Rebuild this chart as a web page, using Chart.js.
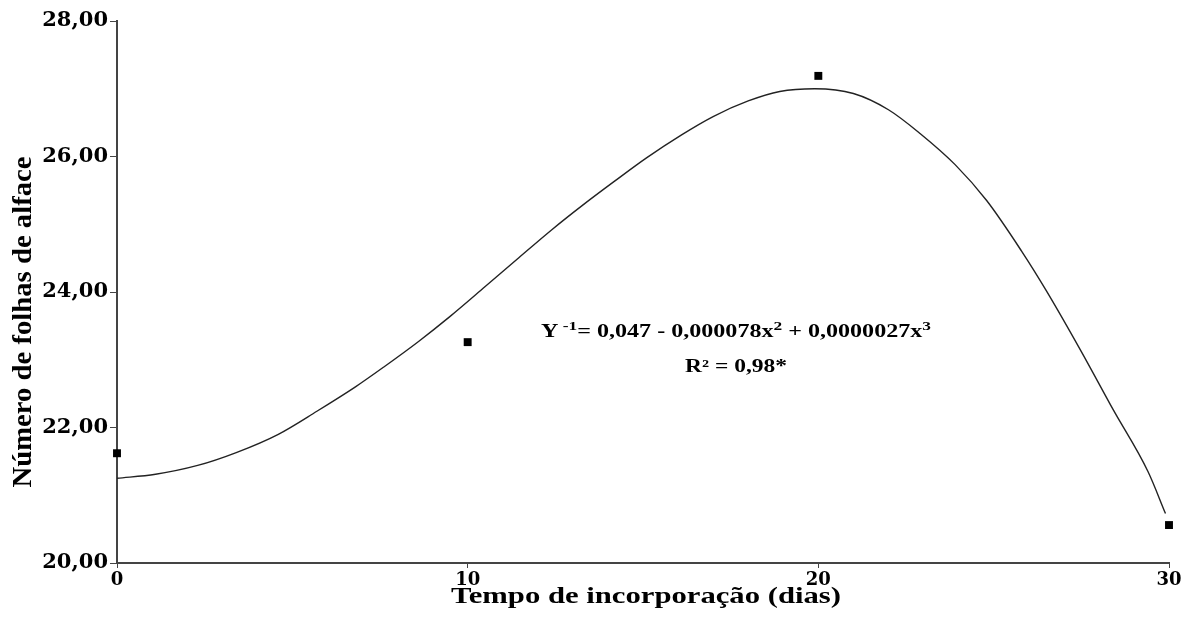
<!DOCTYPE html>
<html>
<head>
<meta charset="utf-8">
<script src="https://cdn.jsdelivr.net/npm/chart.js@4.4.1/dist/chart.umd.min.js"></script>
<style>
  html, body { margin: 0; padding: 0; background: #ffffff; }
  #wrap { width: 1193px; height: 619px; position: relative; }
</style>
</head>
<body>
<div id="wrap"><canvas id="c" width="1193" height="619"></canvas></div>
<script>
// ---- Data ----
const xTicks = [0, 10, 20, 30];
const yTicks = [20, 22, 24, 26, 28];
const obsX = [0, 10, 20, 30];
const obsY = [21.62, 23.26, 27.19, 20.56];
const curveX = [0, 1.1, 2.3, 3.4, 4.6, 5.7, 6.8, 7.6, 8.6, 9.5, 10.5, 11.4, 12.4, 13.3, 14.2, 15.1, 16.1, 17.0, 18.0, 18.9, 19.9, 21.0, 22.0, 22.9, 23.9, 24.8, 25.8, 26.5, 27.5, 28.4, 29.4, 29.9];
const curveY = [21.25, 21.31, 21.44, 21.63, 21.90, 22.24, 22.60, 22.89, 23.27, 23.64, 24.08, 24.48, 24.92, 25.29, 25.64, 25.98, 26.32, 26.59, 26.82, 26.96, 27.00, 26.93, 26.69, 26.34, 25.88, 25.35, 24.60, 24.02, 23.12, 22.27, 21.35, 20.73];
const xTitle = "Tempo de incorporação (dias)";
const yTitle = "Número de folhas de alface";
const eqPieces = [
  { t: "Y", sup: false },
  { t: " -1", sup: true },
  { t: "= 0,047 - 0,000078x", sup: false },
  { t: "2", sup: true },
  { t: " + 0,0000027x", sup: false },
  { t: "3", sup: true }
];
const r2Text = "R² = 0,98*";

const fmt = v => v.toFixed(2).replace('.', ',');

function fitText(ctx, text, x, y, target) {
  const w = ctx.measureText(text).width;
  ctx.save();
  ctx.translate(x, y);
  ctx.scale(target / w, 1);
  ctx.textAlign = 'center';
  ctx.fillText(text, 0, 0);
  ctx.restore();
}

const annot = {
  id: 'annot',
  afterDraw(chart) {
    const ctx = chart.ctx;
    const ca = chart.chartArea;
    ctx.save();
    ctx.fillStyle = '#000';
    ctx.textBaseline = 'alphabetic';
    // Y title
    ctx.save();
    ctx.font = "bold 28px 'Liberation Serif'";
    ctx.translate(ca.left - 86, (ca.top + ca.bottom) / 2 + 30);
    ctx.rotate(-Math.PI / 2);
    fitText(ctx, yTitle, 0, 0, 331);
    ctx.restore();
    // X title
    ctx.font = "bold 23px 'Liberation Serif'";
    fitText(ctx, xTitle, (ca.left + ca.right) / 2 + 3, ca.bottom + 40, 390);

    // Equation
    const big = "bold 18px 'Liberation Serif'";
    const small = "bold 13px 'Liberation Serif'";
    let total = 0;
    const widths = eqPieces.map(p => {
      ctx.font = p.sup ? small : big;
      const w = ctx.measureText(p.t).width;
      total += w;
      return w;
    });
    const eqLeft = ca.left + 424, eqWidth = 390, eqBase = ca.top + 316;
    const s = eqWidth / total;
    ctx.save();
    ctx.translate(eqLeft, eqBase);
    ctx.scale(s, 1);
    ctx.textAlign = 'left';
    let cx = 0;
    eqPieces.forEach((p, i) => {
      ctx.font = p.sup ? small : big;
      ctx.fillText(p.t, cx, p.sup ? -7 : 0);
      cx += widths[i];
    });
    ctx.restore();
    // R2
    ctx.font = big;
    fitText(ctx, r2Text, ca.left + 619, ca.top + 351, 102);
    ctx.restore();
  }
};

new Chart(document.getElementById('c'), {
  type: 'scatter',
  data: {
    datasets: [
      {
        label: 'ajuste',
        data: curveX.map((x, i) => ({ x: x, y: curveY[i] })),
        showLine: true,
        borderColor: '#222222',
        borderWidth: 1.4,
        pointRadius: 0,
        cubicInterpolationMode: 'monotone',
        fill: false,
        order: 2
      },
      {
        label: 'observado',
        data: obsX.map((x, i) => ({ x: x, y: obsY[i] })),
        showLine: false,
        pointStyle: 'rect',
        pointRadius: 5.6,
        backgroundColor: '#000000',
        borderColor: '#000000',
        borderWidth: 0,
        clip: false,
        order: 1
      }
    ]
  },
  options: {
    responsive: false,
    animation: false,
    layout: { padding: { left: 0, right: 24, top: 21, bottom: 0 } },
    plugins: { legend: { display: false }, tooltip: { enabled: false } },
    scales: {
      x: {
        type: 'linear',
        min: 0, max: 30,
        afterBuildTicks: sc => { sc.ticks = xTicks.map(v => ({ value: v })); },
        afterFit: sc => { sc.height = 56; },
        border: { display: true, color: '#444444', width: 2 },
        grid: { drawOnChartArea: false, drawTicks: true, tickLength: 5, color: '#444444' },
        ticks: {
          color: '#000',
          padding: 2,
          maxRotation: 0,
          font: { family: "'DejaVu Serif'", weight: 'bold', size: 18 },
          callback: v => String(v)
        }
      },
      y: {
        type: 'linear',
        min: 20, max: 28,
        afterBuildTicks: sc => { sc.ticks = yTicks.map(v => ({ value: v })); },
        afterFit: sc => { sc.width = 117; },
        border: { display: true, color: '#444444', width: 2 },
        grid: { drawOnChartArea: false, drawTicks: true, tickLength: 7, color: '#444444' },
        ticks: {
          color: '#000',
          padding: 2,
          font: { family: "'DejaVu Serif'", weight: 'bold', size: 21 },
          callback: v => fmt(v)
        }
      }
    }
  },
  plugins: [annot]
});
</script>
</body>
</html>
